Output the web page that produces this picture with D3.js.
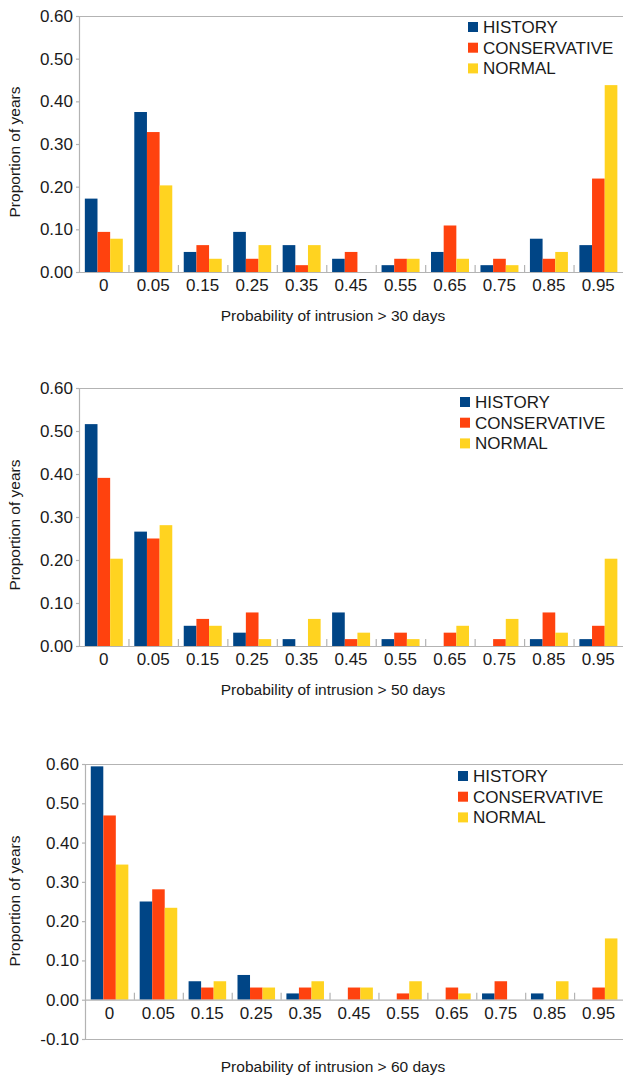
<!DOCTYPE html>
<html>
<head>
<meta charset="utf-8">
<script src="https://cdn.jsdelivr.net/npm/d3@7"></script>
<style>
  html, body { margin: 0; padding: 0; background: #ffffff; }
  svg { display: block; font-family: "Liberation Sans", Arial, sans-serif; }
</style>
</head>
<body>
<svg id="chart" width="623" height="1077"></svg>
<script>
// ---------- DATA ----------
const categories = ["0", "0.05", "0.15", "0.25", "0.35", "0.45", "0.55", "0.65", "0.75", "0.85", "0.95"];
const seriesNames = ["HISTORY", "CONSERVATIVE", "NORMAL"];
const seriesColors = ["#004586", "#ff420e", "#ffd320"];

// > 30 days
const history30      = [0.172, 0.375, 0.047, 0.094, 0.063, 0.031, 0.016, 0.047, 0.016, 0.078, 0.063];
const conservative30 = [0.094, 0.328, 0.063, 0.031, 0.016, 0.047, 0.031, 0.109, 0.031, 0.031, 0.219];
const normal30       = [0.078, 0.203, 0.031, 0.063, 0.063, 0.000, 0.031, 0.031, 0.016, 0.047, 0.438];

// > 50 days
const history50      = [0.516, 0.266, 0.047, 0.031, 0.016, 0.078, 0.016, 0.000, 0.000, 0.016, 0.016];
const conservative50 = [0.391, 0.250, 0.063, 0.078, 0.000, 0.016, 0.031, 0.031, 0.016, 0.078, 0.047];
const normal50       = [0.203, 0.281, 0.047, 0.016, 0.063, 0.031, 0.016, 0.047, 0.063, 0.031, 0.203];

// > 60 days
const history60      = [0.594, 0.250, 0.047, 0.063, 0.016, 0.000, 0.000, 0.000, 0.016, 0.016, 0.000];
const conservative60 = [0.469, 0.281, 0.031, 0.031, 0.031, 0.031, 0.016, 0.031, 0.047, 0.000, 0.031];
const normal60       = [0.344, 0.234, 0.047, 0.031, 0.047, 0.031, 0.047, 0.016, 0.000, 0.047, 0.156];

const yTicksA = [0, 0.1, 0.2, 0.3, 0.4, 0.5, 0.6];
const yTicksB = [-0.1, 0, 0.1, 0.2, 0.3, 0.4, 0.5, 0.6];

const xTitles = ["Probability of intrusion > 30 days", "Probability of intrusion > 50 days", "Probability of intrusion > 60 days"];
const yTitle = "Proportion of years";

// ---------- LAYOUT ----------
const panels = [
  { series: [history30, conservative30, normal30], title: xTitles[0], left: 79, top: 16, bottom: 272, domain: [0, 0.6], ticks: yTicksA,
    legendX: 468, legendY: 27, yTitleY: 152 },
  { series: [history50, conservative50, normal50], title: xTitles[1], left: 79, top: 388, bottom: 646, domain: [0, 0.6], ticks: yTicksA,
    legendX: 460, legendY: 402, yTitleY: 525 },
  { series: [history60, conservative60, normal60], title: xTitles[2], left: 85, top: 764, bottom: 1039, domain: [-0.1, 0.6], ticks: yTicksB,
    legendX: 458, legendY: 776, yTitleY: 901 }
];
const RIGHT = 623;
const AXIS = "#b3b3b3";
const TEXT = "#1a1a1a";
const fmt = d3.format(".2f");
const tickFmt = d => fmt(d).replace("\u2212", "-");

const svg = d3.select("#chart");

panels.forEach(p => {
  const g = svg.append("g");
  const x = d3.scaleBand().domain(categories).range([p.left, RIGHT]).padding(0);
  const bw = x.bandwidth();
  const xs = d3.scaleBand().domain(seriesNames).range([bw * 0.118, bw * 0.886]).padding(0);
  const y = d3.scaleLinear().domain(p.domain).range([p.bottom, p.top]);
  const y0 = y(0);

  // plot frame (top and bottom border, extends to right edge)
  g.append("line").attr("x1", p.left).attr("x2", RIGHT + 2).attr("y1", y(p.domain[1]) + 0.5).attr("y2", y(p.domain[1]) + 0.5)
    .attr("stroke", AXIS).attr("stroke-width", 1.2);
  if (p.domain[0] < 0) {
    g.append("line").attr("x1", p.left).attr("x2", RIGHT + 2).attr("y1", y(p.domain[0]) + 0.5).attr("y2", y(p.domain[0]) + 0.5)
      .attr("stroke", AXIS).attr("stroke-width", 1.2);
  }

  // bars
  p.series.forEach((vals, si) => {
    g.append("g").selectAll("rect").data(vals).join("rect")
      .attr("x", (d, i) => x(categories[i]) + xs(seriesNames[si]))
      .attr("width", xs.bandwidth())
      .attr("y", d => y(Math.max(0, d)))
      .attr("height", d => Math.abs(y(d) - y0))
      .attr("fill", seriesColors[si]);
  });

  // y axis
  const yAxis = d3.axisLeft(y).tickValues(p.ticks).tickFormat(tickFmt).tickSize(3).tickPadding(3);
  const ya = g.append("g").attr("transform", `translate(${p.left},0)`).call(yAxis);
  ya.select(".domain").attr("stroke", AXIS).attr("stroke-width", 1.2);
  ya.selectAll(".tick line").attr("stroke", AXIS).attr("stroke-width", 1.2);
  ya.selectAll(".tick text").attr("fill", TEXT).style("font-size", "17px")
    .style("font-family", "'Liberation Sans', Arial, sans-serif");

  // x axis at zero
  const xAxis = d3.axisBottom(x).tickSize(0).tickPadding(7);
  const xa = g.append("g").attr("transform", `translate(0,${y0})`).call(xAxis);
  xa.select(".domain").attr("stroke", AXIS).attr("stroke-width", 1.2);
  xa.selectAll(".tick text").attr("fill", TEXT).style("font-size", "17px")
    .style("font-family", "'Liberation Sans', Arial, sans-serif");
  // category separator ticks (pointing up into plot)
  g.append("g").selectAll("line").data(categories.slice(1)).join("line")
    .attr("x1", d => x(d) + 0.5).attr("x2", d => x(d) + 0.5)
    .attr("y1", y0).attr("y2", y0 - 7)
    .attr("stroke", AXIS).attr("stroke-width", 1.2);

  // axis titles
  g.append("text").attr("x", 333).attr("y", p.bottom + (p.domain[0] < 0 ? 33 : 49))
    .attr("text-anchor", "middle").attr("fill", TEXT).style("font-size", "15.5px").text(p.title);
  g.append("text").attr("transform", `translate(20,${p.yTitleY}) rotate(-90)`)
    .attr("text-anchor", "middle").attr("fill", TEXT).style("font-size", "15.5px").text(yTitle);

  // legend
  const lg = g.append("g");
  seriesNames.forEach((name, i) => {
    const cy = p.legendY + i * 20.7;
    lg.append("rect").attr("x", p.legendX).attr("y", cy - 5).attr("width", 10).attr("height", 10).attr("fill", seriesColors[i]);
    lg.append("text").attr("x", p.legendX + 15).attr("y", cy + 6).attr("fill", TEXT).style("font-size", "17px").text(name);
  });
});
</script>
</body>
</html>
